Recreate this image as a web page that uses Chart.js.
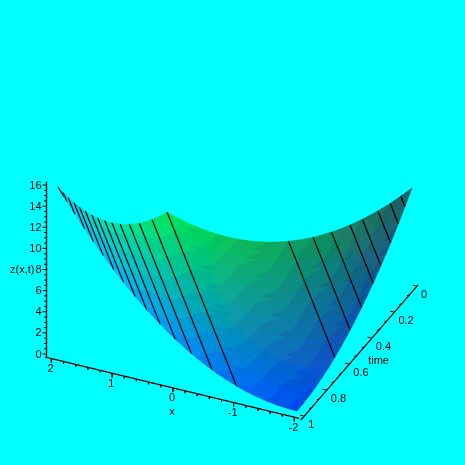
<!DOCTYPE html>
<html>
<head>
<meta charset="utf-8">
<title>z(x,t)</title>
<style>
html, body { margin: 0; padding: 0; background: #00ffff; }
canvas { display: block; }
</style>
<script src="https://cdn.jsdelivr.net/npm/chart.js@4"></script>
</head>
<body>
<canvas id="myChart" width="465" height="465"></canvas>
<script>
// surface samples: one row per x value, one column per time value
var xValues = [2,1.833,1.667,1.5,1.333,1.167,1,0.833,0.667,0.5,0.333,0.167,0,-0.167,-0.333,-0.5,-0.667,-0.833,-1,-1.167,-1.333,-1.5,-1.667,-1.833,-2];
var timeValues = [0,0.056,0.111,0.167,0.222,0.278,0.333,0.389,0.444,0.5,0.556,0.611,0.667,0.722,0.778,0.833,0.889,0.944,1];
var zValues = [
 [1,1.36,1.78,2.25,2.78,3.36,4,4.69,5.44,6.25,7.11,8.03,9,10.03,11.11,12.25,13.44,14.69,16],
 [0.69,1,1.36,1.78,2.25,2.78,3.36,4,4.69,5.44,6.25,7.11,8.03,9,10.03,11.11,12.25,13.44,14.69],
 [0.44,0.69,1,1.36,1.78,2.25,2.78,3.36,4,4.69,5.44,6.25,7.11,8.03,9,10.03,11.11,12.25,13.44],
 [0.25,0.44,0.69,1,1.36,1.78,2.25,2.78,3.36,4,4.69,5.44,6.25,7.11,8.03,9,10.03,11.11,12.25],
 [0.11,0.25,0.44,0.69,1,1.36,1.78,2.25,2.78,3.36,4,4.69,5.44,6.25,7.11,8.03,9,10.03,11.11],
 [0.03,0.11,0.25,0.44,0.69,1,1.36,1.78,2.25,2.78,3.36,4,4.69,5.44,6.25,7.11,8.03,9,10.03],
 [0,0.03,0.11,0.25,0.44,0.69,1,1.36,1.78,2.25,2.78,3.36,4,4.69,5.44,6.25,7.11,8.03,9],
 [0.03,0,0.03,0.11,0.25,0.44,0.69,1,1.36,1.78,2.25,2.78,3.36,4,4.69,5.44,6.25,7.11,8.03],
 [0.11,0.03,0,0.03,0.11,0.25,0.44,0.69,1,1.36,1.78,2.25,2.78,3.36,4,4.69,5.44,6.25,7.11],
 [0.25,0.11,0.03,0,0.03,0.11,0.25,0.44,0.69,1,1.36,1.78,2.25,2.78,3.36,4,4.69,5.44,6.25],
 [0.44,0.25,0.11,0.03,0,0.03,0.11,0.25,0.44,0.69,1,1.36,1.78,2.25,2.78,3.36,4,4.69,5.44],
 [0.69,0.44,0.25,0.11,0.03,0,0.03,0.11,0.25,0.44,0.69,1,1.36,1.78,2.25,2.78,3.36,4,4.69],
 [1,0.69,0.44,0.25,0.11,0.03,0,0.03,0.11,0.25,0.44,0.69,1,1.36,1.78,2.25,2.78,3.36,4],
 [1.36,1,0.69,0.44,0.25,0.11,0.03,0,0.03,0.11,0.25,0.44,0.69,1,1.36,1.78,2.25,2.78,3.36],
 [1.78,1.36,1,0.69,0.44,0.25,0.11,0.03,0,0.03,0.11,0.25,0.44,0.69,1,1.36,1.78,2.25,2.78],
 [2.25,1.78,1.36,1,0.69,0.44,0.25,0.11,0.03,0,0.03,0.11,0.25,0.44,0.69,1,1.36,1.78,2.25],
 [2.78,2.25,1.78,1.36,1,0.69,0.44,0.25,0.11,0.03,0,0.03,0.11,0.25,0.44,0.69,1,1.36,1.78],
 [3.36,2.78,2.25,1.78,1.36,1,0.69,0.44,0.25,0.11,0.03,0,0.03,0.11,0.25,0.44,0.69,1,1.36],
 [4,3.36,2.78,2.25,1.78,1.36,1,0.69,0.44,0.25,0.11,0.03,0,0.03,0.11,0.25,0.44,0.69,1],
 [4.69,4,3.36,2.78,2.25,1.78,1.36,1,0.69,0.44,0.25,0.11,0.03,0,0.03,0.11,0.25,0.44,0.69],
 [5.44,4.69,4,3.36,2.78,2.25,1.78,1.36,1,0.69,0.44,0.25,0.11,0.03,0,0.03,0.11,0.25,0.44],
 [6.25,5.44,4.69,4,3.36,2.78,2.25,1.78,1.36,1,0.69,0.44,0.25,0.11,0.03,0,0.03,0.11,0.25],
 [7.11,6.25,5.44,4.69,4,3.36,2.78,2.25,1.78,1.36,1,0.69,0.44,0.25,0.11,0.03,0,0.03,0.11],
 [8.03,7.11,6.25,5.44,4.69,4,3.36,2.78,2.25,1.78,1.36,1,0.69,0.44,0.25,0.11,0.03,0,0.03],
 [9,8.03,7.11,6.25,5.44,4.69,4,3.36,2.78,2.25,1.78,1.36,1,0.69,0.44,0.25,0.11,0.03,0]
];

// black lines on the surface
var lineStartX = [2,2,2,2,2,2,2,2,2,2,2,2,2,2,2, 0,-0.4,-0.7,-1,-1.2,-1.45,-1.65,-1.82];
var lineStartT = [1,0.95,0.905,0.85,0.8,0.745,0.685,0.63,0.565,0.5,0.425,0.34,0.25,0.135,0, 0,0,0,0,0,0,0,0];
var lineStartZ = [16,14.82,13.8,12.6,11.56,10.47,9.33,8.35,7.26,6.25,5.18,4.08,3.06,1.97,1, 1,1.96,2.89,4,4.84,6,7.02,7.95];
var lineEndX = [1.9,1.85,1.715,1.55,1.4,1.235,1.055,0.89,0.695,0.5,0.275,0.02,-0.25,-0.595,-1, -2,-2,-2,-2,-2,-2,-2,-2];
var lineEndT = [1,1,1,1,1,1,1,1,1,1,1,1,1,1,1, 0.667,0.533,0.433,0.333,0.267,0.183,0.117,0.06];
var lineEndZ = [15.2,14.82,13.8,12.6,11.56,10.47,9.33,8.35,7.26,6.25,5.18,4.08,3.06,1.97,1, 1,1.96,2.89,4,4.84,6,7.02,7.95];

// axes
var xTicks = [2,1,0,-1,-2];
var xTickLabels = ['2','1','0','-1','-2'];
var timeTicks = [0,0.2,0.4,0.6,0.8,1];
var timeTickLabels = ['0','0.2','0.4','0.6','0.8','1'];
var zTicks = [0,2,4,6,8,10,12,14,16];
var zTickLabels = ['0','2','4','6','8','10','12','14','16'];

// corner colours of the surface, [x=2,t=0], [x=2,t=1], [x=-2,t=0], [x=-2,t=1]
var cornerColors = [[0,232,85],[0,215,250],[30,92,92],[0,72,245]];

function project(x, t, z) {
  return { x: 288.25 - 60.75*x - 112.75*t + 0.25*z, y: 251.67 - 14.67*x + 130*t - 10.33*z };
}
function zAxisPoint(z) {
  return { x: 46.5, y: 354 - 10.56*z };
}

function surfaceColor(x, t) {
  var s = (2 - x) / 4;
  var out = [];
  for (var c = 0; c < 3; c++) {
    var v = cornerColors[0][c]*(1-s)*(1-t) + cornerColors[1][c]*(1-s)*t + cornerColors[2][c]*s*(1-t) + cornerColors[3][c]*s*t;
    out.push(Math.round(v/14)*14);
  }
  return 'rgb(' + out[0] + ',' + out[1] + ',' + out[2] + ')';
}

var datasets = [];

function addTriangle(a, b, c) {
  var p = [[a[0],a[1]],[b[0],b[1]],[c[0],c[1]]];
  var pts = p.map(function(q){ return project(xValues[q[0]], timeValues[q[1]], zValues[q[0]][q[1]]); });
  var mx = (xValues[a[0]] + xValues[b[0]] + xValues[c[0]]) / 3;
  var mt = (timeValues[a[1]] + timeValues[b[1]] + timeValues[c[1]]) / 3;
  var col = surfaceColor(mx, mt);
  datasets.push({
    data: [pts[0], pts[1], pts[2], pts[0]],
    showLine: true,
    fill: 'shape',
    backgroundColor: col,
    borderColor: col,
    borderWidth: 0.6,
    pointRadius: 0
  });
}

// back to front
for (var j = 0; j < timeValues.length - 1; j++) {
  for (var i = 0; i < xValues.length - 1; i++) {
    addTriangle([i,j],[i+1,j],[i,j+1]);
    addTriangle([i+1,j],[i+1,j+1],[i,j+1]);
  }
}

function addLine(pts, width) {
  datasets.push({
    data: pts,
    showLine: true,
    fill: false,
    borderColor: '#000000',
    borderWidth: width,
    pointRadius: 0
  });
}

for (var n = 0; n < lineStartX.length; n++) {
  addLine([project(lineStartX[n], lineStartT[n], lineStartZ[n]), project(lineEndX[n], lineEndT[n], lineEndZ[n])], 1.2);
}

// x axis sits just in front of the surface base
var xAxisT = 1.022, xAxisZ = -0.33;
var timeAxisX = -2.12, timeAxisZ = -0.33;
addLine([project(2.1, xAxisT, xAxisZ), project(-2.08, xAxisT, xAxisZ)], 1.3);
addLine([project(timeAxisX, 1.03, timeAxisZ), project(timeAxisX, -0.01, timeAxisZ)], 1.3);
addLine([zAxisPoint(-0.3), zAxisPoint(16.33)], 1.3);

for (var a = 0; a <= 20; a++) {
  var xv = 2 - a*0.2;
  var big = a % 5 == 0;
  addLine([project(xv, xAxisT, xAxisZ), project(xv, xAxisT, xAxisZ - (big ? 0.4 : 0.22))], 1);
}
for (var b = 0; b <= 15; b++) {
  var tv = b/15;
  var bigT = b % 3 == 0;
  addLine([project(timeAxisX, tv, timeAxisZ), project(timeAxisX + (bigT ? 0.07 : 0.04), tv, timeAxisZ - (bigT ? 0 : 0.15))], 1);
}
for (var d = 0; d <= 32; d++) {
  var zv = d*0.5;
  var pz = zAxisPoint(zv);
  addLine([pz, { x: pz.x - (d % 4 == 0 ? 4 : 2.5), y: pz.y }], 1);
}

// chart.js paints the first dataset on top, so flip the back to front list
datasets.reverse();

// axis text, placed from the same projection
var labelsPlugin = {
  id: 'axisText',
  afterDatasetsDraw: function(chart) {
    var ctx = chart.ctx, sx = chart.scales.x, sy = chart.scales.y;
    function put(text, px, py, align) {
      ctx.textAlign = align;
      ctx.fillText(text, sx.getPixelForValue(px), sy.getPixelForValue(py));
    }
    ctx.save();
    ctx.fillStyle = '#000000';
    ctx.font = "11px 'Liberation Sans'";
    ctx.textBaseline = 'middle';
    xTicks.forEach(function(v, k) {
      var p = project(v, xAxisT, xAxisZ);
      put(xTickLabels[k], p.x - 1, p.y + 10.5, 'center');
    });
    timeTicks.forEach(function(v, k) {
      var p = project(timeAxisX, v, timeAxisZ);
      put(timeTickLabels[k], p.x + 4, p.y + 8.5, 'left');
    });
    zTicks.forEach(function(v, k) {
      var p = zAxisPoint(v);
      put(zTickLabels[k], p.x - 5, p.y + 0.5, 'right');
    });
    var xp = project(0, xAxisT, xAxisZ);
    put('x', xp.x - 1, xp.y + 24.5, 'center');
    var tp = project(timeAxisX, 0.5, timeAxisZ);
    put('time', tp.x + 18, tp.y + 10, 'center');
    var zp = zAxisPoint(8);
    put('z(x,t)', 10, zp.y + 0.5, 'left');
    ctx.restore();
  }
};

var myChart = new Chart(document.getElementById('myChart').getContext('2d'), {
  type: 'scatter',
  data: { datasets: datasets },
  plugins: [labelsPlugin],
  options: {
    responsive: false,
    animation: false,
    events: [],
    layout: { padding: 0 },
    plugins: { legend: { display: false }, tooltip: { enabled: false } },
    scales: {
      x: { type: 'linear', min: 0, max: 465, display: false },
      y: { type: 'linear', min: 0, max: 465, reverse: true, display: false }
    }
  }
});
</script>
</body>
</html>
